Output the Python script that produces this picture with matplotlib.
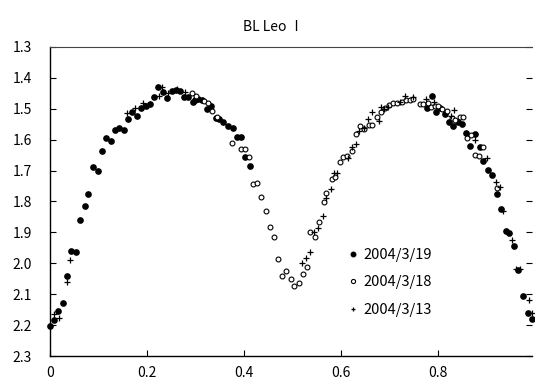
import matplotlib
matplotlib.use("Agg")
import matplotlib.pyplot as plt

plt.rcParams['font.family'] = ['Noto Sans CJK JP', 'DejaVu Sans']

title = "BL Leo Ⅰ"
labels = ["2004/3/19", "2004/3/18", "2004/3/13"]

# 2004/3/19 (filled circles)
x19 = [0.000, 0.008, 0.017, 0.027, 0.034, 0.043, 0.053, 0.062, 0.072, 0.079,
       0.089, 0.098, 0.108, 0.116, 0.125, 0.133, 0.143, 0.152, 0.161, 0.169,
       0.179, 0.187, 0.198, 0.206, 0.215, 0.223, 0.233, 0.242, 0.252, 0.260,
       0.268, 0.277, 0.285, 0.294, 0.298, 0.306, 0.313, 0.323, 0.332, 0.342,
       0.349, 0.357, 0.368, 0.377, 0.386, 0.394, 0.403, 0.412,
       0.778, 0.787, 0.797, 0.805, 0.814, 0.823, 0.832, 0.842, 0.849, 0.858,
       0.867, 0.877, 0.886, 0.893, 0.903, 0.912, 0.922, 0.931, 0.940, 0.947,
       0.957, 0.966, 0.976, 0.985, 0.993]
y19 = [2.202, 2.183, 2.153, 2.129, 2.041, 1.960, 1.964, 1.860, 1.814, 1.777,
       1.689, 1.701, 1.635, 1.594, 1.603, 1.569, 1.563, 1.569, 1.534, 1.509,
       1.522, 1.498, 1.492, 1.483, 1.463, 1.428, 1.445, 1.464, 1.441, 1.439,
       1.441, 1.462, 1.462, 1.477, 1.472, 1.468, 1.472, 1.501, 1.490, 1.531,
       1.534, 1.542, 1.556, 1.563, 1.590, 1.590, 1.656, 1.685,
       1.496, 1.458, 1.509, 1.496, 1.518, 1.542, 1.555, 1.544, 1.550, 1.577,
       1.621, 1.582, 1.625, 1.669, 1.697, 1.714, 1.777, 1.823, 1.894, 1.901,
       1.943, 2.022, 2.106, 2.160, 2.179]

# 2004/3/18 (open circles)
x18 = [0.292, 0.301, 0.318, 0.326, 0.335, 0.344, 0.376, 0.394, 0.402, 0.411,
       0.419, 0.427, 0.435, 0.445, 0.453, 0.461, 0.470, 0.479, 0.487, 0.496,
       0.504, 0.513, 0.521, 0.530, 0.537, 0.547, 0.555, 0.564, 0.570, 0.581,
       0.588, 0.598, 0.605, 0.613, 0.622, 0.631, 0.640, 0.648, 0.657, 0.665,
       0.674, 0.682, 0.691, 0.699, 0.708, 0.716, 0.725, 0.734, 0.742, 0.749,
       0.762, 0.770, 0.779, 0.785, 0.793, 0.801, 0.809, 0.818, 0.828, 0.836,
       0.845, 0.852, 0.860, 0.868, 0.876, 0.885, 0.892, 0.922]
y18 = [1.450, 1.459, 1.475, 1.480, 1.507, 1.526, 1.612, 1.631, 1.630, 1.655,
       1.744, 1.739, 1.784, 1.832, 1.884, 1.916, 1.987, 2.041, 2.024, 2.051,
       2.073, 2.065, 2.034, 2.012, 1.899, 1.916, 1.865, 1.801, 1.773, 1.728,
       1.720, 1.671, 1.655, 1.653, 1.637, 1.582, 1.557, 1.567, 1.554, 1.551,
       1.528, 1.509, 1.499, 1.487, 1.480, 1.482, 1.479, 1.472, 1.470, 1.468,
       1.485, 1.485, 1.482, 1.493, 1.490, 1.491, 1.501, 1.506, 1.531, 1.535,
       1.528, 1.528, 1.594, 1.585, 1.650, 1.653, 1.625, 1.755]

# 2004/3/13 (plus)
x13 = [0.008, 0.018, 0.035, 0.042, 0.159, 0.175, 0.192, 0.224, 0.231, 0.243,
       0.261, 0.279, 0.519, 0.528, 0.536, 0.544, 0.553, 0.562, 0.569, 0.579,
       0.586, 0.592, 0.614, 0.622, 0.631, 0.637, 0.647, 0.656, 0.665, 0.679,
       0.682, 0.689, 0.698, 0.722, 0.732, 0.749, 0.775, 0.791, 0.826, 0.834,
       0.877, 0.901, 0.919, 0.928, 0.935, 0.953, 0.961, 0.969, 0.987, 0.995]
y13 = [2.165, 2.178, 2.060, 1.989, 1.513, 1.498, 1.482, 1.459, 1.429, 1.450,
       1.436, 1.447, 1.998, 1.982, 1.962, 1.899, 1.887, 1.847, 1.788, 1.761,
       1.707, 1.707, 1.660, 1.623, 1.614, 1.572, 1.563, 1.533, 1.510, 1.539,
       1.493, 1.501, 1.495, 1.477, 1.459, 1.463, 1.468, 1.478, 1.523, 1.505,
       1.601, 1.659, 1.738, 1.753, 1.831, 1.926, 2.018, 2.017, 2.120, 2.161]

xticks = [0, 0.2, 0.4, 0.6, 0.8]
xticklabels = ["0", "0.2", "0.4", "0.6", "0.8"]
yticks = [1.3, 1.4, 1.5, 1.6, 1.7, 1.8, 1.9, 2.0, 2.1, 2.2, 2.3]
yticklabels = ["1.3", "1.4", "1.5", "1.6", "1.7", "1.8", "1.9", "2.0", "2.1", "2.2", "2.3"]

fig = plt.figure(figsize=(5.35, 3.87), dpi=100)
ax = fig.add_axes([0.0935, 0.0801, 0.9009, 0.7985])

ax.plot(x19, y19, linestyle='none', marker='o', markersize=3.8,
        markerfacecolor='black', markeredgecolor='black', clip_on=False, label=labels[0])
ax.plot(x18, y18, linestyle='none', marker='o', markersize=3.5,
        markerfacecolor='white', markeredgecolor='black', markeredgewidth=0.8,
        clip_on=False, label=labels[1])
ax.plot(x13, y13, linestyle='none', marker='+', markersize=4.0,
        color='black', markeredgewidth=0.9, clip_on=False, label=labels[2])

ax.set_xlim(0, 0.994)
ax.set_ylim(2.3, 1.3)
ax.set_xticks(xticks)
ax.set_xticklabels(xticklabels)
ax.set_yticks(yticks)
ax.set_yticklabels(yticklabels)

ax.spines['right'].set_visible(False)
ax.spines['top'].set_color('#444444')
ax.spines['top'].set_linewidth(0.8)
for s in ['left', 'bottom']:
    ax.spines[s].set_linewidth(1.0)
    ax.spines[s].set_color('black')

ax.tick_params(axis='x', direction='in', length=4, width=0.8, pad=7, labelsize=10)
ax.tick_params(axis='y', direction='in', length=4, width=0.8, pad=13, labelsize=10,
               right=True, labelright=False)
for t in ax.yaxis.get_major_ticks():
    t.tick2line.set_color('#888888')

fig.text(0.511, 1 - 27 / 387, title, fontsize=10, ha='center', va='center')

leg = ax.legend(loc='upper left', bbox_to_anchor=(0.617, 0.35), frameon=False,
                fontsize=10.5, handlelength=0.8, handletextpad=0.3,
                labelspacing=0.92, borderpad=0, borderaxespad=0, numpoints=1,
                markerscale=0.85)

fig.savefig("out.png", dpi=100)
